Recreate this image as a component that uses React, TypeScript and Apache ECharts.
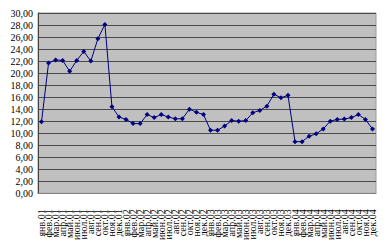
import React, { useEffect, useRef } from "react";
import * as echarts from "echarts";

const months = ["янв", "фев", "мар", "апр", "май", "июн", "июл", "авг", "сен", "окт", "ноя", "дек"];
const years = ["01", "02", "03", "04"];
const categories: string[] = [];
years.forEach((y) => months.forEach((m) => categories.push(`${m}.${y}`)));

const values2001 = [11.9, 21.7, 22.2, 22.1, 20.3, 22.1, 23.6, 22.0, 25.7, 28.1, 14.4, 12.7];
const values2002 = [12.3, 11.6, 11.6, 13.1, 12.6, 13.1, 12.7, 12.4, 12.4, 14.0, 13.5, 13.1];
const values2003 = [10.5, 10.5, 11.2, 12.1, 12.0, 12.1, 13.4, 13.8, 14.5, 16.5, 15.9, 16.3];
const values2004 = [8.6, 8.6, 9.5, 9.9, 10.7, 12.0, 12.3, 12.35, 12.6, 13.1, 12.3, 10.7];
const values = [...values2001, ...values2002, ...values2003, ...values2004];

export default function App() {
  const ref = useRef<HTMLDivElement>(null);
  useEffect(() => {
    if (!ref.current) return;
    const chart = echarts.init(ref.current, undefined, { renderer: "svg" });
    const font = "Liberation Serif";
    chart.setOption({
      animation: false,
      backgroundColor: "#ffffff",
      grid: {
        left: 38,
        right: 12,
        top: 13,
        bottom: 47,
        show: true,
        backgroundColor: "#C0C0C0",
        borderColor: "#9a9a9a",
        borderWidth: 1,
      },
      xAxis: {
        type: "category",
        data: categories,
        boundaryGap: true,
        axisLine: { show: true, lineStyle: { color: "#808080" } },
        axisTick: { show: false },
        axisLabel: {
          interval: 0,
          rotate: 90,
          margin: 16,
          fontFamily: font,
          fontSize: 10,
          color: "#000",
        },
      },
      yAxis: {
        type: "value",
        min: 0,
        max: 30,
        interval: 2,
        axisLine: { show: true, lineStyle: { color: "#404040" } },
        axisTick: { show: false },
        splitLine: { show: true, lineStyle: { color: "#4a4a4a", width: 1 } },
        axisLabel: {
          margin: 5,
          fontFamily: font,
          fontSize: 10,
          color: "#000",
          formatter: (v: number) => v.toFixed(2).replace(".", ","),
        },
      },
      series: [
        {
          type: "line",
          data: values,
          symbol: "diamond",
          symbolSize: 5,
          lineStyle: { color: "#000080", width: 1 },
          itemStyle: { color: "#000080" },
        },
      ],
    });
    return () => chart.dispose();
  }, []);
  return <div ref={ref} style={{ position: "fixed", left: 0, top: 0, width: 388, height: 243 }} />;
}
